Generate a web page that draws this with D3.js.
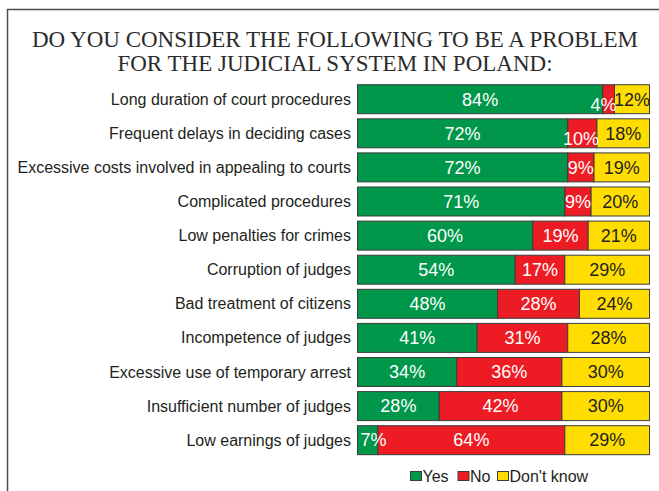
<!DOCTYPE html>
<html>
<head>
<meta charset="utf-8">
<script src="https://cdn.jsdelivr.net/npm/d3@7/dist/d3.min.js"></script>
<style>
  html, body { margin: 0; padding: 0; background: #ffffff; }
  svg { display: block; }
</style>
</head>
<body>
<svg id="chart" width="659" height="491"></svg>
<script>
// Survey answers, in percent of respondents
const categories = [
  "Long duration of court procedures",
  "Frequent delays in deciding cases",
  "Excessive costs involved in appealing to courts",
  "Complicated procedures",
  "Low penalties for crimes",
  "Corruption of judges",
  "Bad treatment of citizens",
  "Incompetence of judges",
  "Excessive use of temporary arrest",
  "Insufficient number of judges",
  "Low earnings of judges"
];
const yesValues = [84, 72, 72, 71, 60, 54, 48, 41, 34, 28, 7];
const noValues  = [4, 10, 9, 9, 19, 17, 28, 31, 36, 42, 64];
const dkValues  = [12, 18, 19, 20, 21, 29, 24, 28, 30, 30, 29];
const seriesNames = ["Yes", "No", "Don't know"];
const titleLines = [
  "DO YOU CONSIDER THE FOLLOWING TO BE A PROBLEM",
  "FOR THE JUDICIAL SYSTEM IN POLAND:"
];

const colors = { "Yes": "#00974a", "No": "#ed1c24", "Don't know": "#ffdd00" };
const labelColors = { "Yes": "#ffffff", "No": "#ffffff", "Don't know": "#231f20" };

const svg = d3.select("#chart");
const sans = "'Liberation Sans', Arial, Helvetica, sans-serif";

// White page with a framed panel
svg.append("rect").attr("width", 659).attr("height", 491).attr("fill", "#ffffff");
svg.append("rect")
  .attr("x", 7.5).attr("y", 9.5)
  .attr("width", 720).attr("height", 600)
  .attr("fill", "none").attr("stroke", "#4d4d4d").attr("stroke-width", 1.5);

// Title
svg.append("g")
  .selectAll("text")
  .data(titleLines)
  .join("text")
  .attr("x", 335)
  .attr("y", (d, i) => 47 + i * 24)
  .attr("text-anchor", "middle")
  .attr("font-family", "'Liberation Serif', 'Times New Roman', serif")
  .attr("font-size", 23)
  .attr("fill", "#2b2b2b")
  .text(d => d);

// Scales
const x = d3.scaleLinear().domain([0, 100]).range([357.5, 649.5]);
const y = d3.scaleBand().domain(categories).range([79.6, 459.8]).padding(0.15);

// Stack the three answers per category
const rows = categories.map((c, i) => ({
  category: c,
  "Yes": yesValues[i],
  "No": noValues[i],
  "Don't know": dkValues[i]
}));
const stacked = d3.stack().keys(seriesNames)(rows);
const segments = stacked.flatMap(layer => layer.map(v => ({ key: layer.key, v })));

// Bar segments
svg.append("g")
  .selectAll("rect")
  .data(segments)
  .join("rect")
  .attr("x", d => x(d.v[0]))
  .attr("y", d => y(d.v.data.category))
  .attr("width", d => x(d.v[1]) - x(d.v[0]))
  .attr("height", y.bandwidth())
  .attr("fill", d => colors[d.key])
  .attr("stroke", "#3c3c3c")
  .attr("stroke-width", 1);

// Value labels, drawn above all segments
const labelSize = 18;
const approxWidth = s => s.length * labelSize * 0.56 + labelSize * 0.33;
svg.append("g")
  .selectAll("text")
  .data(segments)
  .join("text")
  .each(function (d) {
    const txt = (d.v[1] - d.v[0]) + "%";
    const x0 = x(d.v[0]), x1 = x(d.v[1]);
    const w = x1 - x0;
    let px = (x0 + x1) / 2, anchor = "middle", dy = 0;
    if (w < approxWidth(txt)) {
      if (d.key === "Yes") { px = x0 + 3; anchor = "start"; }
      else if (d.key === "No") { px = x1 + 2; anchor = "end"; dy = 5; }
    }
    d3.select(this)
      .attr("x", px)
      .attr("y", y(d.v.data.category) + y.bandwidth() / 2 + dy)
      .attr("dy", "0.35em")
      .attr("text-anchor", anchor)
      .text(txt);
  })
  .attr("font-family", sans)
  .attr("font-size", labelSize)
  .attr("fill", d => labelColors[d.key]);

// Category labels
svg.append("g")
  .selectAll("text")
  .data(categories)
  .join("text")
  .attr("x", 351)
  .attr("y", d => y(d) + y.bandwidth() / 2)
  .attr("dy", "0.35em")
  .attr("text-anchor", "end")
  .attr("font-family", sans)
  .attr("font-size", 16)
  .attr("fill", "#231f20")
  .text(d => d);

// Legend
const legendX = [410, 457.5, 497];
const legend = svg.append("g")
  .selectAll("g")
  .data(seriesNames)
  .join("g")
  .attr("transform", (d, i) => `translate(${legendX[i]},476)`);
legend.append("rect")
  .attr("x", 0.5).attr("y", -4.5)
  .attr("width", 11).attr("height", 9)
  .attr("fill", d => colors[d])
  .attr("stroke", "#3c3c3c").attr("stroke-width", 1);
legend.append("text")
  .attr("x", 12.5)
  .attr("y", 0)
  .attr("dy", "0.35em")
  .attr("font-family", sans)
  .attr("font-size", 16)
  .attr("fill", "#231f20")
  .text(d => d);
</script>
</body>
</html>
